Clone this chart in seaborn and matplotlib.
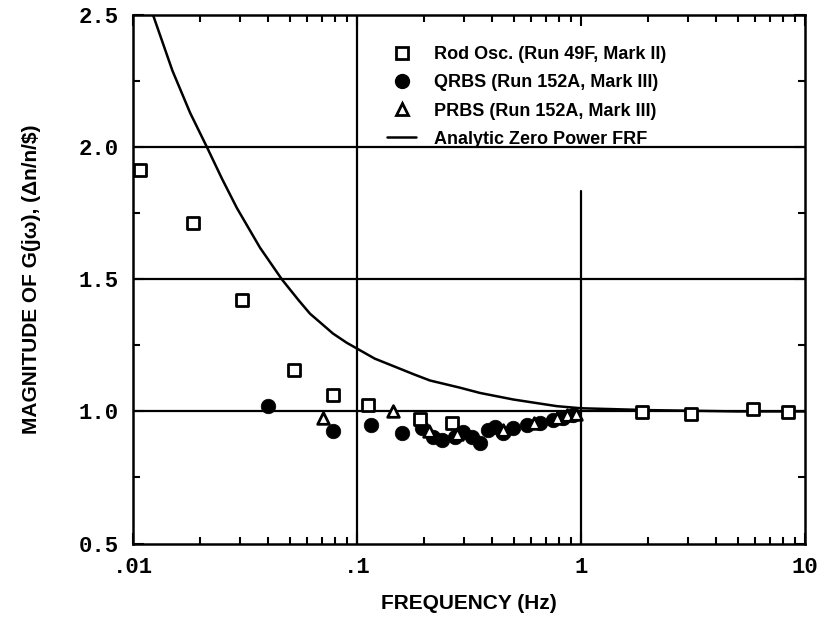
import numpy as np
import pandas as pd
import matplotlib
matplotlib.use("Agg")
import matplotlib.pyplot as plt
import seaborn as sns
from matplotlib.lines import Line2D
from matplotlib.ticker import NullFormatter, LogLocator

# Rod oscillator (Run 49F, Mark II)
rod_freq = [0.0107, 0.0185, 0.0307, 0.0523, 0.0781, 0.112, 0.191, 0.266, 1.87, 3.1, 5.86, 8.4]
rod_mag = [1.913, 1.713, 1.423, 1.158, 1.064, 1.023, 0.970, 0.958, 0.996, 0.989, 1.008, 0.996]

# QRBS (Run 152A, Mark III)
qrbs_freq = [0.0401, 0.0781, 0.115, 0.159, 0.195, 0.218, 0.239, 0.274, 0.297, 0.326, 0.354,
             0.384, 0.413, 0.45, 0.497, 0.574, 0.656, 0.75, 0.83, 0.92]
qrbs_mag = [1.019, 0.925, 0.947, 0.920, 0.936, 0.902, 0.890, 0.902, 0.921, 0.902, 0.879,
            0.928, 0.940, 0.920, 0.936, 0.947, 0.955, 0.966, 0.974, 0.985]

# PRBS (Run 152A, Mark III)
prbs_freq = [0.0705, 0.145, 0.21, 0.28, 0.45, 0.62, 0.78, 0.87, 0.95]
prbs_mag = [0.977, 1.000, 0.925, 0.915, 0.930, 0.955, 0.975, 0.985, 0.992]

# Analytic zero power FRF
frf_freq = [0.0123, 0.015, 0.018, 0.0214, 0.025, 0.0291, 0.0369, 0.0462, 0.055, 0.0617,
            0.07, 0.0781, 0.09, 0.1, 0.12, 0.145, 0.18, 0.212, 0.288, 0.354, 0.5, 0.78,
            1.0, 2.0, 5.0, 10.0]
frf_mag = [2.5, 2.29, 2.13, 2.0, 1.88, 1.77, 1.62, 1.5, 1.42, 1.37,
           1.33, 1.295, 1.26, 1.238, 1.2, 1.172, 1.14, 1.117, 1.09, 1.07, 1.045, 1.02,
           1.012, 1.005, 1.0, 1.0]

legend_labels = ["Rod Osc. (Run 49F, Mark II)", "QRBS (Run 152A, Mark III)",
                 "PRBS (Run 152A, Mark III)", "Analytic Zero Power FRF"]

sns.set_theme(style="ticks")
plt.rcParams['font.family'] = ['Liberation Sans', 'DejaVu Sans']
plt.rcParams['text.color'] = 'black'
plt.rcParams['axes.labelcolor'] = 'black'
plt.rcParams['xtick.color'] = 'black'
plt.rcParams['ytick.color'] = 'black'

fig = plt.figure(figsize=(8.29, 6.32), dpi=100)
ax = fig.add_axes([0.1604, 0.14, 0.8106, 0.836])
ax.set_xscale('log')

# grid lines
for yv in [1.0, 1.5, 2.0]:
    ax.axhline(yv, color='black', lw=1.6, zorder=1)
ax.axvline(0.1, color='black', lw=1.6, zorder=1)
ax.axvline(1.0, ymax=0.667, color='black', lw=1.6, zorder=1)

frf = pd.DataFrame({'f': frf_freq, 'm': frf_mag})
sns.lineplot(data=frf, x='f', y='m', ax=ax, color='black', lw=1.8, sort=True, zorder=2)

rod = pd.DataFrame({'f': rod_freq, 'm': rod_mag})
sns.scatterplot(data=rod, x='f', y='m', ax=ax, marker='s', s=70, facecolor='white',
                edgecolor='black', linewidth=2.0, zorder=4)
qrbs = pd.DataFrame({'f': qrbs_freq, 'm': qrbs_mag})
sns.scatterplot(data=qrbs, x='f', y='m', ax=ax, marker='o', s=110, color='black',
                edgecolor='black', linewidth=0.5, zorder=3)
prbs = pd.DataFrame({'f': prbs_freq, 'm': prbs_mag})
sns.scatterplot(data=prbs, x='f', y='m', ax=ax, marker='^', s=70, facecolor='white',
                edgecolor='black', linewidth=2.0, zorder=4)

ax.set_xlim(0.01, 10)
ax.set_ylim(0.5, 2.5)

mono = {'family': 'Liberation Mono', 'weight': 'bold', 'size': 16}
ax.set_xticks([0.01, 0.1, 1, 10])
ax.set_xticklabels(['.01', '.1', '1', '10'], fontdict=mono)
ax.xaxis.set_minor_locator(LogLocator(base=10, subs=np.arange(2, 10)))
ax.xaxis.set_minor_formatter(NullFormatter())
ax.set_yticks([0.5, 1.0, 1.5, 2.0, 2.5])
ax.set_yticklabels(['0.5', '1.0', '1.5', '2.0', '2.5'], fontdict=mono)
ax.set_yticks([0.75, 1.25, 1.75, 2.25], minor=True)
ax.tick_params(axis='both', which='both', direction='in', top=True, right=True,
               color='black', width=1.5)
ax.tick_params(axis='both', which='major', length=8, pad=10)
ax.tick_params(axis='both', which='minor', length=5)
for sp in ax.spines.values():
    sp.set_linewidth(1.8)
    sp.set_color('black')

ax.set_xlabel('FREQUENCY (Hz)', fontsize=15, fontweight='bold', labelpad=11)
ax.set_ylabel('MAGNITUDE OF G(jω), (Δn/n/$)', fontsize=15, fontweight='bold', labelpad=27)

handles = [
    Line2D([], [], marker='s', ls='none', markersize=8, markerfacecolor='white',
           markeredgecolor='black', markeredgewidth=2.0),
    Line2D([], [], marker='o', ls='none', markersize=10, color='black'),
    Line2D([], [], marker='^', ls='none', markersize=8, markerfacecolor='white',
           markeredgecolor='black', markeredgewidth=2.0),
    Line2D([], [], color='black', lw=1.8),
]
leg = ax.legend(handles, legend_labels, loc='upper left', bbox_to_anchor=(0.354, 0.972),
                frameon=False, prop={'weight': 'bold', 'size': 13}, handlelength=1.6,
                handletextpad=1.0, labelspacing=0.62)
leg.set_zorder(5)

fig.savefig('out.png', dpi=100)
